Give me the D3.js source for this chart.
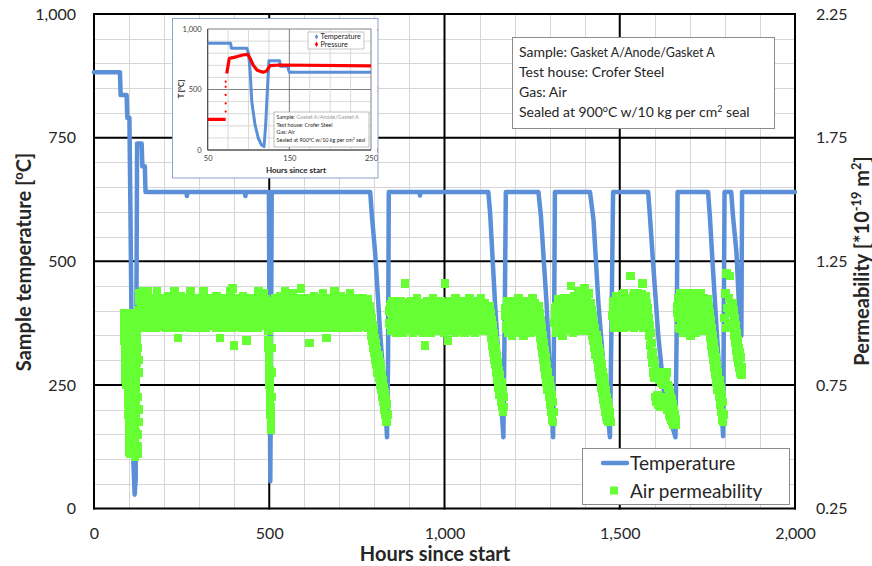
<!DOCTYPE html>
<html>
<head>
<meta charset="utf-8">
<script src="https://cdn.jsdelivr.net/npm/d3@7"></script>
<style>
  html, body { margin: 0; padding: 0; background: #fff; }
  svg { display: block; font-family: Lato, "Open Sans", sans-serif; }
</style>
</head>
<body>
<svg id="chart" width="872" height="566"></svg>
<script>
// ---------------- main chart data ----------------
const hourTicks = [0, 500, 1000, 1500, 2000];
const tempTicks = [0, 250, 500, 750, 1000];
const permTicks = [0.25, 0.75, 1.25, 1.75, 2.25];

// Sample temperature log [°C]
const tempHours = [0, 74, 76, 93, 95, 101, 104, 108, 112, 116,
  119, 121, 123, 136, 138, 145, 147, 264, 265, 266,
  431, 432, 433, 499, 501, 503, 505, 507, 788, 793,
  802, 817, 831, 836, 839, 841, 929, 930, 931, 1125,
  1130, 1144, 1159, 1168, 1172, 1175, 1268, 1275, 1291, 1304,
  1310, 1313, 1315, 1415, 1425, 1439, 1458, 1472, 1477, 1481,
  1581, 1586, 1595, 1610, 1629, 1659, 1663, 1665, 1752, 1757,
  1766, 1781, 1795, 1797, 1799, 1818, 1823, 1833, 1842, 1847,
  1849, 2000];
const tempValues = [882, 882, 836, 836, 790, 790, 600, 300, 100, 28,
  60, 400, 738, 738, 692, 692, 640, 640, 632, 640,
  640, 632, 640, 640, 300, 55, 300, 640, 640, 591,
  518, 349, 214, 144, 300, 640, 640, 633, 640, 640,
  599, 417, 248, 144, 400, 640, 640, 592, 417, 227,
  144, 400, 640, 640, 585, 417, 248, 144, 400, 640,
  640, 592, 498, 349, 214, 144, 400, 640, 640, 592,
  484, 308, 146, 400, 640, 640, 592, 518, 383, 349,
  640, 640];

// Air permeability log [1e-19 m²], stored as logging runs (start hour, interval, readings)
const permRunStart = [85, 130, 496, 508, 787, 842, 1129, 1173, 1269, 1314, 1418, 1480, 1582, 1664, 1754, 1799, 1822,
  85.25, 131.25, 509.25, 843.25, 1174.25, 1315.25, 1481.25, 1665.25];
const permRunStep  = [0.5, 2.5, 0.6, 2.5, 1.5, 2.5, 1.5, 2.5, 1.5, 2.5, 1.5, 2.5, 1.5, 2.5, 1.5, 2, 1.5,
  0.5, 2.5, 2.5, 2.5, 2.5, 2.5, 2.5, 2.5];
const permRunValues = [
  // first heat-up and sealing
  [1.04, 1.00, 0.96, 0.93, 0.97, 1.01, 0.98, 0.94, 0.90, 0.86,
   0.82, 0.78, 0.75, 0.79, 0.83, 0.87, 0.91, 0.95, 0.99, 1.03,
   1.01, 0.97, 0.93, 0.89, 0.85, 0.81, 0.77, 0.73, 0.69, 0.65,
   0.61, 0.57, 0.53, 0.49, 0.47, 0.51, 0.55, 0.59, 0.63, 0.67,
   0.71, 0.75, 0.79, 0.83, 0.87, 0.91, 0.95, 0.99, 1.03, 1.01,
   0.97, 0.93, 0.89, 0.85, 0.81, 0.77, 0.73, 0.69, 0.65, 0.61,
   0.57, 0.53, 0.49, 0.46, 0.48, 0.52, 0.56, 0.60, 0.64, 0.68,
   0.72, 0.76, 0.80, 0.84, 0.88, 0.92, 0.96, 1.00, 1.04, 0.90,
   0.70, 0.50, 0.47, 0.60, 0.80, 1.00, 1.12],
  [1.12, 0.99, 1.06, 1.02, 1.13, 1.04, 0.98, 1.09, 1.01, 1.13, 1.05, 1.00,
   1.07, 1.10, 0.98, 1.03, 1.08, 1.01, 1.05, 0.98, 1.13, 1.02, 1.08, 1.00,
   1.06, 1.10, 0.99, 1.04, 1.08, 1.01, 0.98, 1.07, 1.03, 1.11, 1.00, 1.05,
   1.09, 1.02, 0.98, 1.06, 1.13, 1.03, 1.00, 1.08, 0.94, 1.04, 0.98, 1.11,
   1.06, 1.02, 0.99, 1.09, 1.05, 1.01, 1.10, 1.07, 1.03, 0.98, 1.13, 1.05,
   1.00, 1.08, 1.01, 1.04, 0.98, 1.10, 1.06, 1.03, 0.98, 1.10, 1.05, 1.00,
   1.08, 1.13, 1.01, 1.04, 0.98, 1.10, 1.06, 1.02, 0.99, 1.09, 1.05, 1.01,
   1.10, 1.07, 1.03, 0.98, 1.11, 1.05, 1.00, 1.08, 0.94, 1.04, 0.98, 1.10,
   1.06, 1.03, 0.98, 1.10, 1.05, 1.00, 1.08, 1.01, 1.13, 0.98, 1.14, 1.06,
   0.91, 1.02, 0.99, 1.09, 1.05, 1.01, 1.10, 1.07, 1.03, 0.98, 1.11, 1.05,
   1.00, 1.08, 0.93, 1.04, 0.98, 1.10, 1.06, 1.03, 0.98, 1.10, 1.05, 1.00,
   1.08, 1.01, 1.04, 0.98, 1.13, 1.06, 1.02, 1.10, 0.99, 1.05, 1.12, 1.00,
   1.07, 1.03],
  [1.03, 1.00, 0.97, 0.93, 0.90, 0.87, 0.84, 0.81, 0.78, 0.75,
   0.72, 0.69, 0.66, 0.63, 0.60, 0.57, 0.62, 0.70, 0.80, 0.90, 1.00],
  [1.08, 1.00, 1.05, 0.98, 1.10, 1.03, 0.99, 1.07, 1.02, 1.11, 1.05, 1.00,
   1.09, 0.98, 1.04, 1.13, 1.06, 1.01, 1.03, 1.10, 0.98, 1.07, 1.00, 1.05,
   1.12, 1.02, 0.99, 1.08, 1.04, 1.10, 0.98, 1.06, 1.01, 1.14, 1.03, 1.09,
   1.00, 1.05, 0.98, 1.10, 1.07, 1.02, 1.04, 0.92, 1.09, 1.00, 1.06, 0.98,
   1.11, 1.03, 1.07, 0.99, 1.05, 1.10, 1.01, 0.98, 1.08, 1.04, 1.12, 1.00,
   1.06, 1.02, 0.94, 1.09, 0.98, 1.05, 1.10, 1.01, 1.07, 1.03, 0.98, 1.13,
   1.05, 1.00, 1.09, 1.02, 0.98, 1.06, 1.11, 1.04, 0.99, 1.08, 1.01, 1.05,
   0.98, 1.10, 1.03, 1.07, 1.00, 1.12, 1.05, 0.98, 1.09, 1.02, 1.06, 1.00,
   1.10, 1.04, 0.98, 1.08, 1.01, 1.06, 1.03, 1.10, 0.99, 1.05, 1.08, 1.00,
   1.04, 1.09, 0.98, 1.06],
  // thermal cycle 1
  [1.07, 0.98, 1.04, 0.95, 1.02, 0.93, 0.99, 0.90, 0.97, 0.88,
   0.94, 0.85, 0.92, 0.83, 0.89, 0.80, 0.87, 0.78, 0.84, 0.75,
   0.82, 0.73, 0.79, 0.70, 0.77, 0.68, 0.74, 0.65, 0.72, 0.63,
   0.69, 0.60, 0.67, 0.60, 0.63],
  [1.00, 1.07, 0.97, 1.04, 1.09, 0.99, 1.05, 1.02, 0.96, 1.08, 1.01, 1.06,
   0.98, 1.09, 1.03, 0.96, 1.06, 1.00, 1.16, 1.04, 0.97, 1.08, 1.02, 1.06,
   0.99, 1.09, 1.04, 0.96, 1.07, 1.01, 1.05, 0.98, 1.10, 1.02, 1.07, 0.97,
   1.04, 1.08, 1.00, 0.96, 1.06, 0.91, 1.02, 1.09, 0.98, 1.05, 1.01, 1.08,
   0.96, 1.04, 1.10, 1.00, 1.06, 0.98, 1.03, 1.08, 0.97, 1.05, 1.01, 1.09,
   0.99, 1.06, 1.03, 0.96, 1.16, 1.08, 1.01, 0.93, 1.05, 0.97, 1.09, 1.03,
   0.99, 1.07, 1.02, 0.96, 1.10, 1.05, 1.00, 1.08, 0.97, 1.04, 1.06, 0.98,
   1.09, 1.02, 0.96, 1.07, 1.03, 1.00, 1.05, 0.97, 1.10, 1.01, 1.08, 0.98,
   1.04, 1.06, 0.96, 1.09, 1.02, 1.00, 1.07, 0.98, 1.04, 1.10, 0.97, 1.05,
   1.01, 1.08, 0.99, 1.03, 1.06, 0.97, 1.04],
  // thermal cycle 2
  [1.07, 0.97, 1.04, 0.94, 1.01, 0.91, 0.99, 0.88, 0.96, 0.85,
   0.93, 0.83, 0.90, 0.80, 0.87, 0.77, 0.84, 0.74, 0.81, 0.71,
   0.79, 0.68, 0.76, 0.66, 0.73, 0.64, 0.70, 0.66],
  [1.06, 0.99, 1.09, 0.96, 1.03, 1.07, 1.00, 1.05, 0.95, 1.09, 1.02, 0.98,
   1.07, 1.04, 0.96, 1.10, 1.01, 1.05, 0.98, 1.08, 1.03, 0.95, 1.06, 1.00,
   1.09, 0.97, 1.04, 1.07, 1.01, 0.96, 1.05, 1.10, 0.99, 1.03, 1.08, 0.97,
   1.02, 1.06, 0.99],
  // thermal cycle 3
  [1.07, 0.97, 1.04, 0.94, 1.01, 0.91, 0.98, 0.88, 0.95, 0.85,
   0.92, 0.82, 0.89, 0.79, 0.86, 0.76, 0.83, 0.73, 0.80, 0.70,
   0.77, 0.67, 0.74, 0.64, 0.71, 0.61, 0.68, 0.60, 0.64],
  [1.00, 1.06, 0.96, 1.03, 1.09, 0.98, 1.05, 1.01, 1.08, 0.95, 1.04, 1.10,
   0.99, 1.06, 1.02, 0.97, 1.09, 1.04, 1.00, 1.15, 1.07, 0.96, 1.03, 1.11,
   0.98, 1.05, 1.09, 1.01, 1.13, 0.97, 1.06, 1.03, 1.10, 0.99, 1.14, 1.05,
   1.01, 1.08, 0.97, 1.12, 1.04, 1.00],
  // thermal cycle 4
  [1.08, 0.98, 1.05, 0.95, 1.03, 0.93, 1.00, 0.90, 0.98, 0.87,
   0.95, 0.85, 0.93, 0.82, 0.90, 0.79, 0.88, 0.77, 0.85, 0.74,
   0.83, 0.72, 0.80, 0.69, 0.78, 0.67, 0.75, 0.64, 0.73, 0.62,
   0.70, 0.61, 0.68, 0.60, 0.66, 0.61, 0.64, 0.60],
  [1.03, 1.09, 0.98, 1.05, 1.11, 1.00, 1.07, 1.02, 0.99, 1.10, 1.04, 1.08,
   0.98, 1.12, 1.01, 1.06, 1.03, 0.99, 1.09, 1.05, 1.19, 1.00, 1.07, 1.11,
   0.98, 1.04, 1.09, 1.02, 1.12, 0.99, 1.06, 1.10, 1.01, 1.04, 1.16, 0.98,
   1.08, 1.03, 1.11, 1.00, 1.06],
  // thermal cycle 5
  [1.02, 0.95, 0.99, 0.91, 0.96, 0.87, 0.92, 0.84, 0.88, 0.80,
   0.85, 0.78, 0.82, 0.70, 0.80, 0.68, 0.78, 0.71, 0.80, 0.67,
   0.77, 0.70, 0.79, 0.66, 0.76, 0.69, 0.80, 0.67, 0.75, 0.70,
   0.79, 0.66, 0.77, 0.68, 0.80, 0.65, 0.75, 0.67, 0.74, 0.63,
   0.72, 0.62, 0.70, 0.61, 0.69, 0.60, 0.67, 0.59, 0.65, 0.60,
   0.63, 0.59, 0.61],
  [1.04, 1.10, 0.98, 1.06, 1.12, 1.00, 1.08, 0.96, 1.03, 1.10, 1.01, 1.06,
   0.97, 1.12, 1.04, 0.95, 1.08, 1.02, 0.99, 1.06, 1.11, 0.96, 1.04, 1.09,
   1.01, 0.98, 1.07, 1.12, 1.03, 0.97, 1.10, 1.05, 1.00, 1.08, 1.03, 1.06],
  // thermal cycle 6
  [1.07, 0.97, 1.04, 0.94, 1.01, 0.91, 0.98, 0.88, 0.95, 0.85,
   0.92, 0.82, 0.89, 0.79, 0.86, 0.76, 0.83, 0.73, 0.80, 0.70,
   0.77, 0.67, 0.74, 0.64, 0.71, 0.61, 0.68, 0.60, 0.63],
  [1.02, 1.12, 0.98, 1.20, 1.06, 1.00, 1.10, 1.04, 1.19, 0.99, 1.08],
  // thermal cycle 7
  [1.08, 0.98, 1.05, 0.95, 1.02, 0.92, 0.99, 0.89, 0.96, 0.86,
   0.93, 0.84, 0.90, 0.82, 0.88, 0.80, 0.86, 0.79, 0.82],

  // readings logged in between the samples above
  [1.02, 0.98, 0.95, 0.99, 1.03, 0.96, 0.92, 0.88, 0.84, 0.80,
   0.77, 0.81, 0.85, 0.89, 0.93, 0.97, 1.01, 1.03, 0.99, 0.95,
   0.91, 0.87, 0.83, 0.79, 0.75, 0.71, 0.67, 0.63, 0.59, 0.55,
   0.51, 0.48, 0.49, 0.53, 0.57, 0.61, 0.65, 0.69, 0.73, 0.77,
   0.81, 0.85, 0.89, 0.93, 0.97, 1.01, 1.04, 0.99, 0.95, 0.91,
   0.87, 0.83, 0.79, 0.75, 0.71, 0.67, 0.63, 0.59, 0.55, 0.51,
   0.47, 0.47, 0.50, 0.54, 0.58, 0.62, 0.66, 0.70, 0.74, 0.78,
   0.82, 0.86, 0.90, 0.94, 0.98, 1.02, 0.80, 0.60, 0.48, 0.70,
   0.90, 0.55, 0.65, 0.85, 1.05, 1.09],
  [1.04, 1.09, 0.99, 1.065, 1.015, 1.10, 1.03, 0.985, 1.075, 1.05,
   1.00, 1.085, 1.025, 1.06, 0.99, 1.095, 1.045, 1.01, 1.07, 1.03,
   0.985, 1.055, 1.10, 1.02, 1.08, 1.04, 0.995, 1.09, 1.06, 1.015,
   1.075, 1.03, 0.985, 1.10, 1.05, 1.01, 1.085, 1.04, 0.99, 1.065,
   1.025, 1.095, 1.055, 1.00, 1.08, 1.035, 0.985, 1.07, 1.015, 1.10,
   1.05, 1.09, 1.00, 1.06, 1.025, 1.08, 0.99, 1.045, 1.10, 1.015,
   1.065, 1.03, 0.985, 1.085, 1.05, 1.005, 1.095, 1.04, 1.07, 0.99,
   1.055, 1.02, 1.09, 1.035, 1.075, 0.985, 1.06, 1.10, 1.01, 1.045,
   1.08, 1.025, 0.995, 1.065, 1.09, 1.04, 1.00, 1.075, 1.02, 1.10,
   1.05, 0.985, 1.085, 1.035, 1.06, 1.01, 1.095, 1.045, 0.99, 1.07,
   1.03, 1.08, 1.00, 1.055, 1.10, 1.015, 1.065, 0.985, 1.04, 1.09,
   1.06, 1.025, 1.10, 0.995, 1.075, 1.045, 1.005, 1.085, 1.03, 1.065,
   0.99, 1.05, 1.095, 1.02, 1.07, 1.04, 0.985, 1.08, 1.055, 1.01,
   1.10, 1.035, 1.065, 0.995, 1.085, 1.025, 1.05, 1.09, 1.00, 1.06,
   1.03, 1.075, 0.99, 1.045, 1.095],
  [1.065, 1.01, 1.09, 1.035, 0.99, 1.075, 1.045, 1.00, 1.10, 1.025,
   1.055, 0.985, 1.085, 1.015, 1.06, 1.03, 1.095, 1.04, 1.005, 1.07,
   1.02, 1.08, 0.995, 1.05, 1.10, 1.035, 1.065, 1.01, 1.09, 0.985,
   1.045, 1.075, 1.025, 1.06, 1.00, 1.085, 1.015, 1.055, 0.99, 1.095,
   1.04, 1.07, 1.005, 1.03, 1.08, 0.995, 1.05, 1.10, 1.02, 1.065,
   1.035, 0.985, 1.09, 1.045, 1.01, 1.075, 1.025, 1.06, 1.00, 1.085,
   1.015, 1.055, 1.095, 0.99, 1.04, 1.07, 1.03, 1.005, 1.08, 1.05,
   0.995, 1.10, 1.02, 1.065, 1.035, 1.09, 1.01, 1.045, 0.985, 1.075,
   1.025, 1.06, 1.00, 1.085, 1.055, 1.015, 1.095, 1.04, 0.99, 1.07,
   1.03, 1.08, 1.005, 1.05, 1.10, 1.02, 1.065, 0.995, 1.035, 1.09,
   1.045, 1.01, 1.075, 1.025, 1.06, 0.985, 1.085, 1.00, 1.055, 1.095,
   1.015],
  [1.05, 0.995, 1.075, 1.02, 0.97, 1.06, 1.03, 0.985, 1.085, 1.01,
   1.04, 0.975, 1.07, 1.00, 1.045, 1.015, 1.08, 1.025, 0.99, 1.055,
   1.005, 1.065, 0.98, 1.035, 1.085, 1.02, 1.05, 0.995, 1.075, 0.97,
   1.03, 1.06, 1.01, 1.045, 0.985, 1.07, 1.00, 1.04, 0.975, 1.08,
   1.025, 1.055, 0.99, 1.015, 1.065, 0.98, 1.035, 1.085, 1.005, 1.05,
   1.02, 0.97, 1.075, 1.03, 0.995, 1.06, 1.01, 1.045, 0.985, 1.07,
   1.00, 1.04, 1.08, 0.975, 1.025, 1.055, 1.015, 0.99, 1.065, 1.035,
   0.98, 1.085, 1.005, 1.05, 1.02, 1.075, 0.995, 1.03, 0.97, 1.06,
   1.01, 1.045, 0.985, 1.07, 1.04, 1.00, 1.08, 1.025, 0.975, 1.055,
   1.015, 1.065, 0.99, 1.035, 1.085, 1.005, 1.05, 0.98, 1.02, 1.075,
   1.03, 0.995, 1.06, 1.01, 1.045, 0.97, 1.07, 1.04, 0.985, 1.08,
   1.025, 1.055, 1.00, 1.065],
  [1.03, 0.975, 1.065, 1.01, 1.085, 0.995, 1.045, 0.965, 1.075, 1.02,
   1.055, 0.985, 1.035, 1.08, 1.00, 1.06, 0.97, 1.025, 1.07, 1.04,
   0.99, 1.05, 1.015, 1.085, 0.965, 1.035, 1.065, 1.005, 1.045, 0.98,
   1.075, 1.02, 1.055, 0.995, 1.03, 1.06, 1.01, 0.975],
  [1.03, 0.975, 1.07, 1.015, 1.095, 0.99, 1.05, 1.08, 0.965, 1.035,
   1.06, 1.005, 1.09, 1.025, 0.98, 1.075, 1.045, 0.995, 1.10, 1.02,
   1.055, 0.97, 1.085, 1.035, 1.01, 1.065, 1.12, 0.985, 1.04, 1.095,
   1.025, 1.075, 1.005, 1.11, 1.05, 0.99, 1.085, 1.03, 1.06, 1.015,
   1.07],
  [1.06, 1.005, 1.085, 1.03, 1.11, 0.99, 1.045, 1.095, 1.015, 1.07,
   1.035, 1.115, 1.00, 1.055, 1.08, 1.02, 1.10, 1.065, 0.985, 1.04,
   1.09, 1.01, 1.075, 1.05, 1.12, 0.995, 1.06, 1.105, 1.025, 1.085,
   1.045, 1.005, 1.07, 1.115, 1.03, 1.095, 1.055, 0.99, 1.08, 1.035],
  [1.07, 1.02, 1.095, 0.975, 1.045, 1.115, 1.00, 1.065, 0.965, 1.085,
   1.03, 1.105, 0.99, 1.055, 1.015, 1.08, 0.97, 1.04, 1.12, 1.005,
   1.06, 1.09, 0.985, 1.035, 1.075, 1.01, 1.11, 1.05, 0.975, 1.025,
   1.085, 1.045, 1.00, 1.065, 1.095]
];

const legendLabels = ["Temperature", "Air permeability"];

// ---------------- inset (start-up detail) data ----------------
const insetHourTicks = [50, 150, 250];
const insetTempTicks = [0, 500, 1000];
const insetPressTicks = [0, 2, 4];
const insetTempHours  = [50, 78, 79, 98, 100, 102, 104, 108, 112, 116, 119, 121, 123, 125, 138, 139, 148, 150, 250];
const insetTempValues = [882, 882, 840, 840, 800, 645, 399, 207, 97, 41, 28, 207, 482, 738, 738, 692, 692, 642, 642];
const insetPressLowHours  = [50, 72];
const insetPressLowValues = [1.01, 1.01];
const insetPressJumpValues = [1.27, 1.54, 1.82, 2.09, 2.26]; // readings logged at 72 h
const insetPressHighHours  = [73.3, 76.5, 85, 93, 99, 102, 105.6, 110.6, 117.9, 122, 126.3, 138.5, 250];
const insetPressHighValues = [2.53, 3.03, 3.08, 3.14, 3.16, 3.03, 2.81, 2.64, 2.57, 2.61, 2.79, 2.81, 2.78];
const insetLegendLabels = ["Temperature", "Pressure"];

// ---------------- drawing ----------------
const BLUE = "#5b8fd8";
const GREEN = "#66ff33";
const TEXT = "#262626";
const svg = d3.select("#chart");

const plot = { left: 94, right: 795, top: 14, bottom: 508.5 };
const x = d3.scaleLinear([0, 2000], [plot.left, plot.right]);
const yT = d3.scaleLinear([0, 1000], [plot.bottom, plot.top]);
const yP = d3.scaleLinear([0.25, 2.25], [plot.bottom, plot.top]);
const crisp = v => Math.round(v) + 0.5;

// text with superscript pieces
function rich(textSel, parts, size) {
  let up = false;
  parts.forEach(p => {
    const ts = textSel.append("tspan").text(p.t);
    if (p.sup) {
      ts.attr("font-size", size * 0.64);
      if (!up) { ts.attr("dy", -size * 0.38); up = true; }
    } else {
      if (up) { ts.attr("dy", size * 0.38); up = false; }
      if (p.size) ts.attr("font-size", p.size);
    }
    if (p.fill) ts.attr("fill", p.fill);
  });
  return textSel;
}

// minor grid
const grid = svg.append("g");
grid.selectAll("line.hmin")
  .data(d3.range(0, 1001, 50).filter(v => v % 250 !== 0))
  .join("line")
  .attr("x1", plot.left).attr("x2", plot.right)
  .attr("y1", d => crisp(yT(d))).attr("y2", d => crisp(yT(d)))
  .attr("stroke", "#d6d6d6").attr("stroke-width", 1);
grid.selectAll("line.vmin")
  .data(d3.range(0, 2001, 100).filter(v => v % 500 !== 0))
  .join("line")
  .attr("y1", plot.top).attr("y2", plot.bottom)
  .attr("x1", d => crisp(x(d))).attr("x2", d => crisp(x(d)))
  .attr("stroke", "#d6d6d6").attr("stroke-width", 1);

// major grid (also forms the frame)
grid.selectAll("line.hmaj")
  .data(tempTicks).join("line")
  .attr("x1", plot.left - 1).attr("x2", plot.right + 1)
  .attr("y1", d => yT(d)).attr("y2", d => yT(d))
  .attr("stroke", "#000").attr("stroke-width", 2);
grid.selectAll("line.vmaj")
  .data(hourTicks).join("line")
  .attr("y1", plot.top - 1).attr("y2", plot.bottom + 1)
  .attr("x1", d => x(d)).attr("x2", d => x(d))
  .attr("stroke", "#000").attr("stroke-width", 2);

// axes (labels only; lines come from the grid)
function styleAxis(g, size) {
  g.select(".domain").remove();
  g.attr("font-family", "Lato, sans-serif");
  g.selectAll("text").attr("font-size", size).attr("fill", TEXT);
}
svg.append("g").attr("transform", `translate(${plot.left},0)`)
  .call(d3.axisLeft(yT).tickValues(tempTicks).tickFormat(d3.format(",")).tickSize(0).tickPadding(18))
  .call(g => styleAxis(g, 16));
svg.append("g").attr("transform", `translate(0,${plot.bottom})`)
  .call(d3.axisBottom(x).tickValues(hourTicks).tickFormat(d3.format(",")).tickSize(0).tickPadding(19))
  .call(g => styleAxis(g, 16));
svg.append("g").attr("transform", `translate(${plot.right},0)`)
  .call(d3.axisRight(yP).tickValues(permTicks).tickFormat(d3.format(".2f")).tickSize(0).tickPadding(21))
  .call(g => styleAxis(g, 16));

// axis titles
rich(svg.append("text")
  .attr("transform", "translate(31,262) rotate(-90)")
  .attr("text-anchor", "middle").attr("font-weight", 700).attr("font-size", 20).attr("fill", TEXT),
  [{ t: "Sample temperature [" }, { t: "o", sup: true }, { t: "C]" }], 20);
svg.append("text")
  .attr("x", 435).attr("y", 561)
  .attr("text-anchor", "middle").attr("font-weight", 700).attr("font-size", 20).attr("fill", TEXT)
  .text("Hours since start");
rich(svg.append("text")
  .attr("transform", "translate(869,261) rotate(-90)")
  .attr("text-anchor", "middle").attr("font-weight", 700).attr("font-size", 20).attr("fill", TEXT),
  [{ t: "Permeability [*10" }, { t: "-19", sup: true }, { t: " m" }, { t: "2", sup: true }, { t: "]" }], 20);

// temperature line
const tempData = tempHours.map((h, i) => ({ h, v: tempValues[i] }));
svg.append("path")
  .datum(tempData)
  .attr("fill", "none").attr("stroke", BLUE).attr("stroke-width", 4.5)
  .attr("stroke-linejoin", "round").attr("stroke-linecap", "round")
  .attr("d", d3.line().x(d => x(d.h)).y(d => yT(d.v)));

// permeability markers
const SQ = 8.5;
const permData = permRunStart.flatMap((h0, r) =>
  permRunValues[r].map((v, i) => ({ h: h0 + i * permRunStep[r], v })));
svg.append("g").attr("shape-rendering", "crispEdges").selectAll("rect")
  .data(permData).join("rect")
  .attr("x", d => x(d.h) - SQ / 2).attr("y", d => yP(d.v) - SQ / 2)
  .attr("width", SQ).attr("height", SQ)
  .attr("fill", GREEN);

// sample note box
const note = svg.append("g").attr("fill", TEXT).attr("font-size", 14);
note.append("rect").attr("x", 512.5).attr("y", 37.5).attr("width", 262).attr("height", 91)
  .attr("fill", "#fff").attr("stroke", "#8c8c8c").attr("stroke-width", 1);
rich(note.append("text").attr("x", 519).attr("y", 57),
  [{ t: "Sample:" }, { t: " Gasket A/Anode/Gasket A", size: 12.5 }], 14);
note.append("text").attr("x", 519).attr("y", 77).text("Test house: Crofer Steel");
note.append("text").attr("x", 519).attr("y", 97).text("Gas: Air");
rich(note.append("text").attr("x", 519).attr("y", 117),
  [{ t: "Sealed at 900" }, { t: "o", sup: true }, { t: "C w/10 kg per cm" }, { t: "2", sup: true }, { t: " seal" }], 14);

// legend
const legend = svg.append("g").attr("font-size", 19).attr("fill", TEXT);
legend.append("rect").attr("x", 582.5).attr("y", 448.5).attr("width", 207).attr("height", 56)
  .attr("fill", "#fff").attr("stroke", "#8c8c8c").attr("stroke-width", 1);
legend.append("line").attr("x1", 603).attr("x2", 627).attr("y1", 463).attr("y2", 463)
  .attr("stroke", BLUE).attr("stroke-width", 4.5).attr("stroke-linecap", "round");
legend.append("text").attr("x", 630).attr("y", 469.5).text(legendLabels[0]);
legend.append("rect").attr("x", 610).attr("y", 486.5).attr("width", 8).attr("height", 8).attr("fill", GREEN);
legend.append("text").attr("x", 630).attr("y", 497.5).text(legendLabels[1]);

// ---------------- inset chart ----------------
const box = { x: 172.5, y: 18.5, w: 205.5, h: 159.5 };
const inset = svg.append("g");
svg.append("defs").append("clipPath").attr("id", "insetClip")
  .append("rect").attr("x", box.x).attr("y", box.y).attr("width", box.w).attr("height", box.h);
inset.attr("clip-path", "url(#insetClip)");
inset.append("rect").attr("x", box.x).attr("y", box.y).attr("width", box.w).attr("height", box.h)
  .attr("fill", "#fff");

const ip = { left: 207.7, right: 371, top: 29, bottom: 150 };
const ix = d3.scaleLinear([50, 250], [ip.left, ip.right]);
const iyT = d3.scaleLinear([0, 1000], [ip.bottom, ip.top]);
const iyP = d3.scaleLinear([0, 4], [ip.bottom, ip.top]);

inset.selectAll("line.ihmin").data(d3.range(0, 1001, 100)).join("line")
  .attr("x1", ip.left).attr("x2", ip.right).attr("y1", d => iyT(d)).attr("y2", d => iyT(d))
  .attr("stroke", d => d % 500 === 0 ? "#606060" : "#cfcfcf").attr("stroke-width", 0.8);
inset.selectAll("line.ivmin").data(d3.range(50, 251, 25)).join("line")
  .attr("y1", ip.top).attr("y2", ip.bottom).attr("x1", d => ix(d)).attr("x2", d => ix(d))
  .attr("stroke", d => d % 100 === 50 ? "#606060" : "#cfcfcf").attr("stroke-width", 0.8);
inset.append("line").attr("x1", ip.left).attr("x2", ip.left).attr("y1", ip.top).attr("y2", ip.bottom)
  .attr("stroke", "#404040").attr("stroke-width", 1);
inset.append("line").attr("x1", ip.left).attr("x2", ip.right).attr("y1", ip.bottom).attr("y2", ip.bottom)
  .attr("stroke", "#404040").attr("stroke-width", 1);

inset.append("g").attr("transform", `translate(${ip.left},0)`)
  .call(d3.axisLeft(iyT).tickValues(insetTempTicks).tickFormat(d3.format(",")).tickSize(0).tickPadding(6))
  .call(g => { styleAxis(g, 7.5); g.selectAll("text").attr("fill", "#404040"); });
inset.append("g").attr("transform", `translate(0,${ip.bottom})`)
  .call(d3.axisBottom(ix).tickValues(insetHourTicks).tickSize(0).tickPadding(6))
  .call(g => { styleAxis(g, 7.5); g.selectAll("text").attr("fill", "#404040"); });
inset.append("g").attr("transform", `translate(${ip.right},0)`)
  .call(d3.axisRight(iyP).tickValues(insetPressTicks).tickSize(0).tickPadding(6))
  .call(g => { styleAxis(g, 7.5); g.selectAll("text").attr("fill", "#404040"); });

rich(inset.append("text")
  .attr("transform", "translate(184,89) rotate(-90)")
  .attr("text-anchor", "middle").attr("font-weight", 700).attr("font-size", 7.5).attr("fill", TEXT),
  [{ t: "T  [" }, { t: "o", sup: true }, { t: "C]" }], 7.5);
inset.append("text").attr("x", 296).attr("y", 173).attr("text-anchor", "middle")
  .attr("font-weight", 700).attr("font-size", 8).attr("fill", TEXT).text("Hours since start");

const iTemp = insetTempHours.map((h, i) => ({ h, v: insetTempValues[i] }));
inset.append("path").datum(iTemp)
  .attr("fill", "none").attr("stroke", BLUE).attr("stroke-width", 3).attr("stroke-linejoin", "round")
  .attr("d", d3.line().x(d => ix(d.h)).y(d => iyT(d.v)));

const pLine = d3.line().x(d => ix(d.h)).y(d => iyP(d.v));
[[insetPressLowHours, insetPressLowValues], [insetPressHighHours, insetPressHighValues]].forEach(([hs, vs]) => {
  inset.append("path").datum(hs.map((h, i) => ({ h, v: vs[i] })))
    .attr("fill", "none").attr("stroke", "#ff0000").attr("stroke-width", 3.2).attr("stroke-linejoin", "round")
    .attr("d", pLine);
});
inset.selectAll("circle.jump").data(insetPressJumpValues).join("circle")
  .attr("cx", ix(72)).attr("cy", d => iyP(d)).attr("r", 1.1).attr("fill", "#ff0000");

// inset legend
const il = inset.append("g").attr("font-size", 7.3).attr("fill", TEXT);
il.append("rect").attr("x", 308).attr("y", 32).attr("width", 56).attr("height", 17)
  .attr("fill", "#fff").attr("stroke", "#a0a0a0").attr("stroke-width", 0.6);
[[BLUE, 36.7], ["#ff0000", 44.3]].forEach(([c, yy], i) => {
  il.append("path").attr("d", d3.symbol(d3.symbolDiamond, 9)())
    .attr("transform", `translate(316.5,${yy})`).attr("fill", c);
  il.append("text").attr("x", 320.5).attr("y", yy + 2.5).text(insetLegendLabels[i]);
});

// inset note
const inote = inset.append("g").attr("font-size", 5.4).attr("fill", TEXT);
inote.append("rect").attr("x", 274).attr("y", 112).attr("width", 95).attr("height", 35)
  .attr("fill", "#fff").attr("stroke", "#909090").attr("stroke-width", 0.6);
rich(inote.append("text").attr("x", 276.5).attr("y", 119),
  [{ t: "Sample:" }, { t: " Gasket A/Anode/Gasket A", fill: "#9a9a9a" }], 5.4);
inote.append("text").attr("x", 276.5).attr("y", 126.5).text("Test house: Crofer Steel");
inote.append("text").attr("x", 276.5).attr("y", 134).text("Gas: Air");
rich(inote.append("text").attr("x", 276.5).attr("y", 142),
  [{ t: "Sealed at 900" }, { t: "o", sup: true }, { t: "C w/10 kg per cm" }, { t: "2", sup: true }, { t: " seal" }], 5.4);

svg.append("rect").attr("x", box.x).attr("y", box.y).attr("width", box.w).attr("height", box.h)
  .attr("fill", "none").attr("stroke", "#8da4c8").attr("stroke-width", 1);
</script>
</body>
</html>
